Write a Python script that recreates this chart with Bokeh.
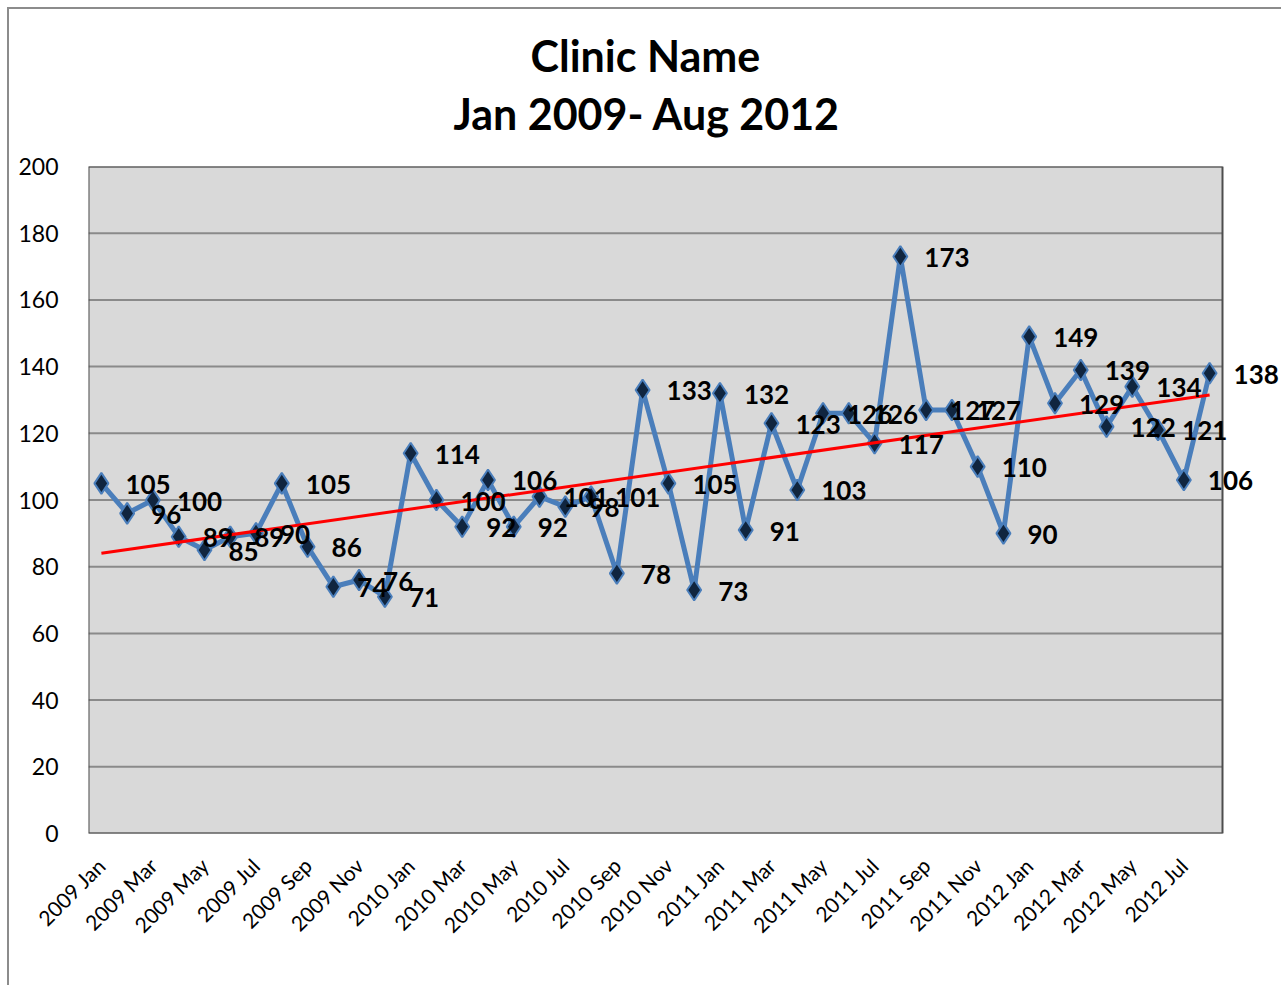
import numpy as np
from bokeh.plotting import figure
from bokeh.models import ColumnDataSource, FixedTicker, Title, BoxAnnotation
from bokeh.core.properties import value
from bokeh.embed import file_html
from bokeh.resources import INLINE

months = ["Jan", "Feb", "Mar", "Apr", "May", "Jun", "Jul", "Aug", "Sep", "Oct", "Nov", "Dec"]
categories = [f"{y} {m}" for y in (2009, 2010, 2011) for m in months] + [f"2012 {m}" for m in months[:8]]
visits = [105, 96, 100, 89, 85, 89, 90, 105, 86, 74, 76, 71,
          114, 100, 92, 106, 92, 101, 98, 101, 78, 133, 105, 73,
          132, 91, 123, 103, 126, 126, 117, 173, 127, 127, 110, 90,
          149, 129, 139, 122, 134, 121, 106, 138]
title_lines = ["Clinic Name", "Jan 2009- Aug 2012"]
y_ticks = list(range(0, 201, 20))

n = len(visits)
idx = list(range(n))
src = ColumnDataSource(dict(x=idx, y=visits, lbl=[str(v) for v in visits]))

slope, intercept = np.polyfit(idx, visits, 1)
trend_x = [idx[0], idx[-1]]
trend_y = [intercept + slope * t for t in trend_x]

FONT = "Lato"
x_lo, x_hi = -0.5, n - 0.5          # category band of the plot area
y_lo, y_hi = 0, 200
px_per_unit = 1134 / n               # plot area width / categories
right_pad = 61 / px_per_unit         # room to the right for data labels

p = figure(width=1274, height=978, output_backend="svg", toolbar_location=None,
           x_range=(x_lo, x_hi + right_pad), y_range=(y_lo, y_hi),
           min_border_left=79, min_border_right=0, min_border_top=157, min_border_bottom=154)
p.styles = {"margin-left": "7px", "margin-top": "7px",
            "border-left": "2px solid #8c8c8c", "border-top": "2px solid #8c8c8c"}

p.add_layout(Title(text=" ", text_font_size="12px", standoff=7), "above")
p.add_layout(Title(text=title_lines[1], align="left", offset=365, standoff=10,
                   text_font=FONT, text_font_size="43px", text_font_style="bold",
                   text_color="black"), "above")
p.add_layout(Title(text=title_lines[0], align="left", offset=442, standoff=0,
                   text_font=FONT, text_font_size="43px", text_font_style="bold",
                   text_color="black"), "above")

p.background_fill_color = "white"
p.border_fill_color = "white"
p.outline_line_color = None

# plot-area fill
p.add_layout(BoxAnnotation(left=x_lo, right=x_hi, bottom=y_lo, top=y_hi, level="image",
                           fill_color="#d9d9d9", fill_alpha=1, line_color=None))

# horizontal gridlines limited to the plot area
p.xgrid.visible = False
p.ygrid.visible = False
grid = p.segment(x0=[x_lo] * len(y_ticks), x1=[x_hi] * len(y_ticks), y0=y_ticks, y1=y_ticks,
                 line_color="#8a8a8a", line_width=2)
grid.level = "underlay"

# plot-area border
p.add_layout(BoxAnnotation(left=x_lo, right=x_hi, bottom=y_lo, top=y_hi, level="underlay",
                           fill_alpha=0, line_color="#4d4d4d", line_alpha=1, line_width=2))

p.yaxis.ticker = FixedTicker(ticks=y_ticks)
p.yaxis.axis_line_color = None
p.yaxis.major_tick_line_color = None
p.yaxis.minor_tick_line_color = None
p.yaxis.major_label_text_font = FONT
p.yaxis.major_label_text_font_size = "23px"
p.yaxis.major_label_text_color = "black"
p.yaxis.major_label_standoff = 24

xt = idx[::2]
p.xaxis.ticker = FixedTicker(ticks=xt)
p.xaxis.major_label_overrides = {i: categories[i] for i in xt}
p.xaxis.major_label_orientation = np.pi / 4
p.xaxis.axis_line_color = None
p.xaxis.major_tick_line_color = None
p.xaxis.minor_tick_line_color = None
p.xaxis.major_label_text_font = FONT
p.xaxis.major_label_text_font_size = "21px"
p.xaxis.major_label_text_color = "black"
p.xaxis.major_label_standoff = 22

p.line("x", "y", source=src, line_color="#4a7ebb", line_width=5)
p.scatter("x", "y", source=src, marker="diamond", size=21, fill_color="#10253f",
          line_color="#4a7ebb", line_width=2)
p.line(trend_x, trend_y, line_color="#ff0000", line_width=3)
p.text("x", "y", text="lbl", source=src, x_offset=24, y_offset=1,
       text_font=value(FONT), text_font_style="bold", text_font_size="26px",
       text_align="left", text_baseline="middle", text_color="black")

open("out.html", "w").write(file_html(p, INLINE))
